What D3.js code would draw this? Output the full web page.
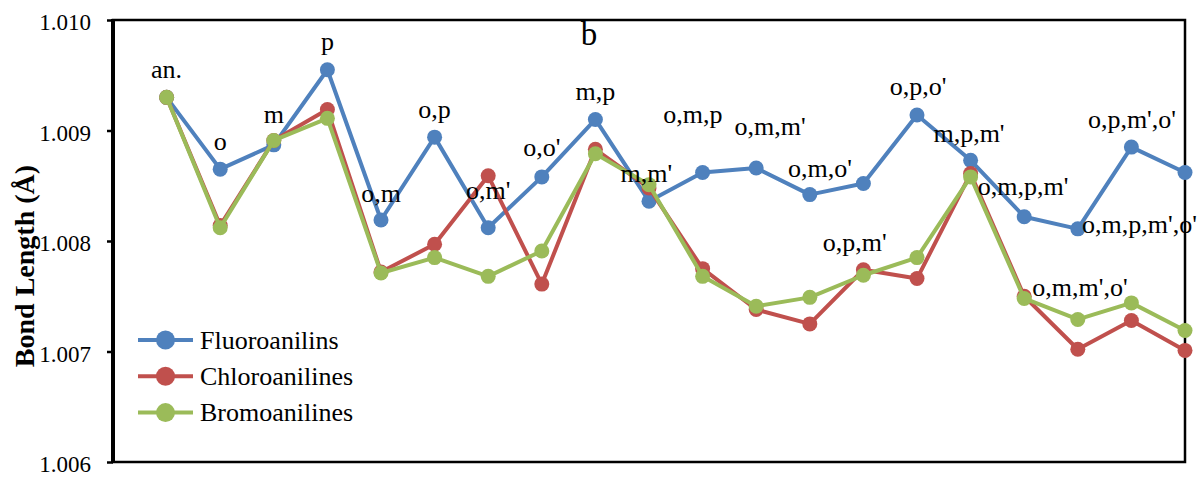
<!DOCTYPE html>
<html>
<head>
<meta charset="utf-8">
<script src="https://cdn.jsdelivr.net/npm/d3@7"></script>
<style>
  html, body { margin: 0; padding: 0; background: #fff; }
  svg { display: block; }
  text { font-family: "Liberation Serif", "DejaVu Serif", serif; fill: #000; }
</style>
</head>
<body>
<svg id="chart" width="1200" height="477"></svg>
<script>
// Substitution patterns (one per point)
const categories = ["an.", "o", "m", "p", "o,m", "o,p", "o,m'", "o,o'", "m,p", "m,m'",
    "o,m,p", "o,m,m'", "o,m,o'", "o,p,m'", "o,p,o'", "m,p,m'", "o,m,p,m'",
    "o,m,m',o'", "o,p,m',o'", "o,m,p,m',o'"];

const fluoro = [1.00930, 1.00865, 1.00887, 1.00955, 1.00819, 1.00894, 1.00812, 1.00858, 1.00910, 1.00836,
    1.00862, 1.00866, 1.00842, 1.00852, 1.00914, 1.00873, 1.00822, 1.00811, 1.00885, 1.00862];
const chloro = [1.00930, 1.00814, 1.00891, 1.00919, 1.00772, 1.00797, 1.00859, 1.00761, 1.00883, 1.00848,
    1.00775, 1.00738, 1.00725, 1.00774, 1.00766, 1.00861, 1.00750, 1.00702, 1.00728, 1.00701];
const bromo = [1.00930, 1.00812, 1.00891, 1.00911, 1.00771, 1.00785, 1.00768, 1.00791, 1.00879, 1.00851,
    1.00768, 1.00741, 1.00749, 1.00769, 1.00785, 1.00858, 1.00748, 1.00729, 1.00744, 1.00719];

// where each data label sits (category index, bond length)
const labelAtX = [0, 1, 2, 3, 4, 5, 6, 7, 8, 8.95, 9.82, 11.26, 12.19, 12.84, 14.02, 14.97, 15.98, 17.04, 18.01, 18.15];
const labelAtY = [1.009475, 1.008824, 1.009068, 1.009729, 1.008357, 1.009110, 1.008380, 1.008769, 1.009276, 1.008537,
    1.009071, 1.008959, 1.008582, 1.007910, 1.009321, 1.008899, 1.008416, 1.007505, 1.009020, 1.008070];

const yTicks = [1.006, 1.007, 1.008, 1.009, 1.010];

const seriesNames = ["Fluoroanilins", "Chloroanilines", "Bromoanilines"];
const seriesData = [fluoro, chloro, bromo];
const colors = ["#4f81bd", "#c0504d", "#9bbb59"];

const svg = d3.select("#chart");
const plot = { left: 113, right: 1185, top: 20, bottom: 462 };

const x = d3.scaleLinear().domain([-1, categories.length - 1]).range([plot.left, plot.right]);
const y = d3.scaleLinear().domain([1.006, 1.010]).range([plot.bottom, plot.top]);

// y axis
const yAxis = svg.append("g")
    .attr("transform", `translate(${plot.left},0)`)
    .call(d3.axisLeft(y).tickValues(yTicks).tickFormat(d3.format(".3f")).tickSize(6).tickPadding(16));
yAxis.select(".domain").remove();
yAxis.selectAll(".tick line").attr("stroke", "#000").attr("stroke-width", 2.5);
yAxis.selectAll(".tick text")
    .attr("font-family", "Liberation Serif")
    .attr("font-size", 23)
    .attr("dy", "0.42em");

// plot frame
svg.append("rect")
    .attr("x", plot.left).attr("y", plot.top)
    .attr("width", plot.right - plot.left).attr("height", plot.bottom - plot.top)
    .attr("fill", "none").attr("stroke", "#000").attr("stroke-width", 2.5);
svg.append("line")
    .attr("x1", plot.left).attr("x2", plot.left).attr("y1", plot.top - 1).attr("y2", plot.bottom + 1)
    .attr("stroke", "#000").attr("stroke-width", 4);

// axis title
svg.append("text")
    .attr("transform", `translate(34,${(plot.top + plot.bottom) / 2 + 25}) rotate(-90)`)
    .attr("text-anchor", "middle")
    .attr("font-size", 28)
    .attr("font-weight", "bold")
    .text("Bond Length (Å)");

// chart letter
svg.append("text")
    .attr("x", 589).attr("y", 45)
    .attr("text-anchor", "middle")
    .attr("font-size", 33)
    .text("b");

const line = d3.line()
    .x((d, i) => x(i))
    .y(d => y(d));

seriesData.forEach((vals, s) => {
    const g = svg.append("g").attr("class", "series");
    g.append("path")
        .datum(vals)
        .attr("d", line)
        .attr("fill", "none")
        .attr("stroke", colors[s])
        .attr("stroke-width", 4)
        .attr("stroke-linejoin", "round");
    g.selectAll("circle")
        .data(vals)
        .enter()
        .append("circle")
        .attr("cx", (d, i) => x(i))
        .attr("cy", d => y(d))
        .attr("r", 7.5)
        .attr("fill", colors[s]);
});

// data labels
svg.append("g").selectAll("text")
    .data(categories)
    .enter()
    .append("text")
    .attr("x", (d, i) => x(labelAtX[i]))
    .attr("y", (d, i) => y(labelAtY[i]))
    .attr("text-anchor", "middle")
    .attr("font-size", 26)
    .text(d => d);

// legend
const legend = svg.append("g").attr("transform", "translate(138,340)");
seriesNames.forEach((name, s) => {
    const row = legend.append("g").attr("transform", `translate(0,${s * 36.3})`);
    row.append("line")
        .attr("x1", 0).attr("x2", 55)
        .attr("stroke", colors[s]).attr("stroke-width", 4);
    row.append("circle")
        .attr("cx", 27.5).attr("r", 9.5)
        .attr("fill", colors[s]);
    row.append("text")
        .attr("x", 62).attr("y", 8.5)
        .attr("font-size", 26)
        .text(name);
});
</script>
</body>
</html>
